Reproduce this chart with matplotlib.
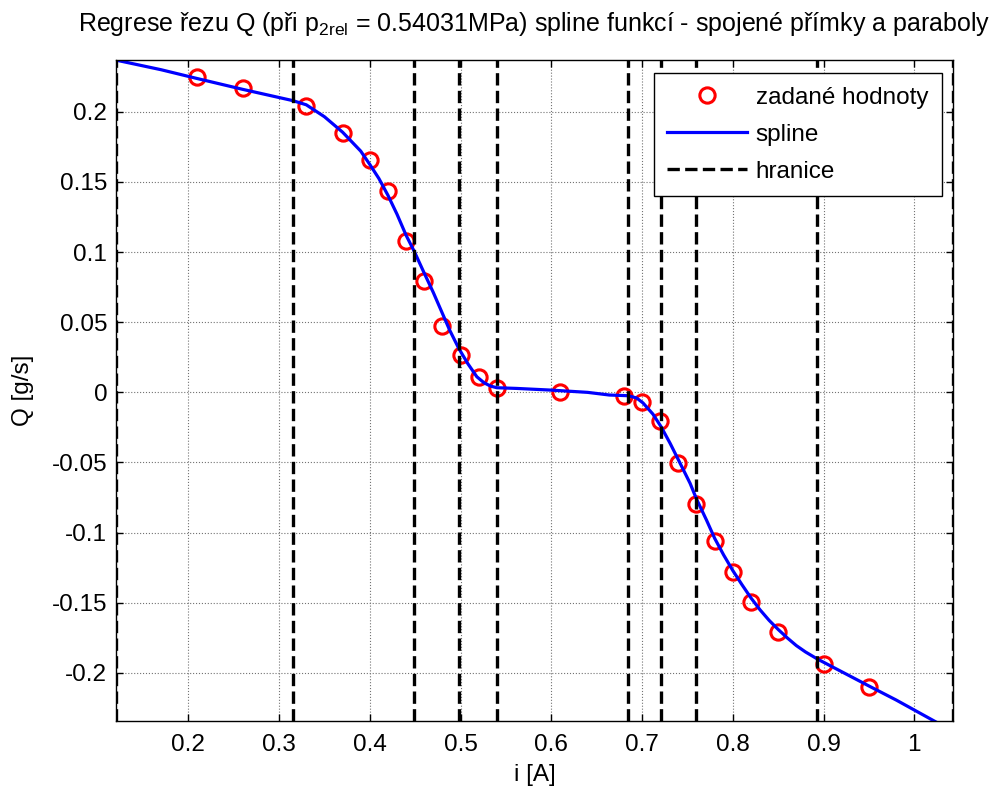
"""
Regrese řezu Q spline funkcí - body, spline a hranice úseků.
"""
import numpy as np
import matplotlib
matplotlib.use('Agg')
import matplotlib.pyplot as plt

plt.rcParams['font.family'] = ['Liberation Sans', 'DejaVu Sans']
plt.rcParams['mathtext.default'] = 'regular'

# Zadané hodnoty
i_data = [0.21, 0.26, 0.33, 0.37, 0.40, 0.42, 0.44, 0.46, 0.48, 0.50, 0.52, 0.54,
          0.61, 0.68, 0.70, 0.72, 0.74, 0.76, 0.78, 0.80, 0.82, 0.85, 0.90, 0.95]
q_data = [0.2249, 0.2167, 0.2041, 0.1846, 0.1656, 0.1437, 0.1078, 0.0793, 0.0473,
          0.0266, 0.0110, 0.0029, 0.0000, -0.0026, -0.0067, -0.0202, -0.0506,
          -0.0796, -0.1060, -0.1279, -0.1497, -0.1706, -0.1939, -0.2103]

# Průběh spline
i_spline = [0.120, 0.170, 0.208, 0.260, 0.315, 0.330, 0.350, 0.370, 0.390, 0.400,
            0.410, 0.420, 0.430, 0.440, 0.449, 0.460, 0.470, 0.488, 0.498, 0.508,
            0.518, 0.526, 0.533, 0.540, 0.562, 0.600, 0.640, 0.664, 0.685, 0.694,
            0.701, 0.712, 0.721, 0.731, 0.742, 0.753, 0.760, 0.771, 0.780, 0.790,
            0.800, 0.810, 0.820, 0.830, 0.840, 0.850, 0.860, 0.870, 0.880, 0.893,
            0.950, 0.980, 1.043]
q_spline = [0.2369, 0.2300, 0.2240, 0.2160, 0.2080, 0.2050, 0.1965, 0.1855, 0.1720,
            0.1625, 0.1525, 0.1405, 0.1270, 0.1120, 0.1005, 0.0850, 0.0712, 0.0444,
            0.0314, 0.0205, 0.0111, 0.0068, 0.0045, 0.0033, 0.0028, 0.0016, 0.0000,
            -0.0019, -0.0024, -0.0040, -0.0075, -0.0155, -0.0245, -0.0364, -0.0506,
            -0.0649, -0.0760, -0.0910, -0.1040, -0.1160, -0.1270, -0.1370, -0.1465,
            -0.1550, -0.1625, -0.1690, -0.1750, -0.1805, -0.1850, -0.1900, -0.2093,
            -0.2193, -0.2418]

# Hranice úseků
hranice = [0.120, 0.315, 0.449, 0.498, 0.540, 0.685, 0.721, 0.759, 0.893, 1.043]

x_ticks = [0.2, 0.3, 0.4, 0.5, 0.6, 0.7, 0.8, 0.9, 1.0]
x_labels = ['0.2', '0.3', '0.4', '0.5', '0.6', '0.7', '0.8', '0.9', '1']
y_ticks = [-0.2, -0.15, -0.1, -0.05, 0.0, 0.05, 0.1, 0.15, 0.2]
y_labels = ['-0.2', '-0.15', '-0.1', '-0.05', '0', '0.05', '0.1', '0.15', '0.2']

fs = 17.5

fig = plt.figure(figsize=(9.92, 7.92), dpi=100)
ax = fig.add_axes([0.1166, 0.0896, 0.8444, 0.8346])

ax.plot(i_data, q_data, 'o', color='red', mfc='none', mec='red', ms=11, mew=2.2,
        label='zadané hodnoty')
ax.plot(i_spline, q_spline, '-', color='blue', linewidth=2.3, label='spline')
for k, h in enumerate(hranice):
    ax.axvline(h, color='black', linestyle='--', linewidth=2.4,
               label='hranice' if k == 0 else None)

ax.set_xlim(0.12, 1.043)
ax.set_ylim(-0.2343, 0.2369)
ax.set_xticks(x_ticks)
ax.set_xticklabels(x_labels)
ax.set_yticks(y_ticks)
ax.set_yticklabels(y_labels)
ax.tick_params(direction='in', length=5, width=1, top=True, right=True,
               labelsize=fs)
ax.tick_params(axis='x', pad=9)
ax.tick_params(axis='y', pad=6)
ax.grid(True, color='0.45', linestyle=':', linewidth=0.8)
for s in ax.spines.values():
    s.set_linewidth(1.0)

ax.set_xlabel('i [A]', fontsize=fs, labelpad=6)
ax.set_ylabel('Q [g/s]', fontsize=fs, labelpad=13)
ax.set_title(r'Regrese řezu Q (při p$_{\mathregular{2rel}}$ = 0.54031MPa) spline funkcí - spojené přímky a paraboly',
             fontsize=18, pad=21)

leg = ax.legend(loc='upper right', bbox_to_anchor=(941.7 / 992, 1 - 73.3 / 792),
                bbox_transform=fig.transFigure, borderaxespad=0, fontsize=fs,
                numpoints=1, handlelength=3.3, handletextpad=0.35,
                labelspacing=0.62, borderpad=0.55, fancybox=False, framealpha=1)
leg.get_frame().set_edgecolor('black')
leg.get_frame().set_linewidth(1.0)

fig.savefig('out.png', dpi=100)
